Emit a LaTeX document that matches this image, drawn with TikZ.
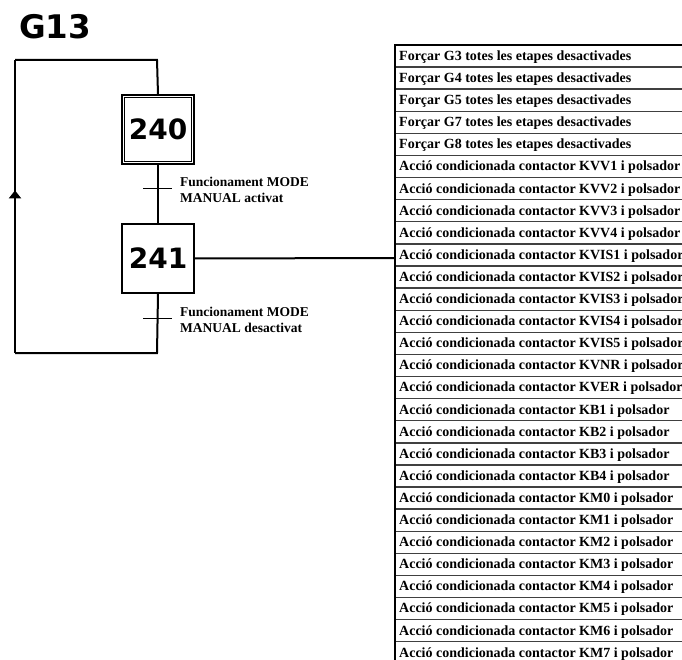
\documentclass[tikz,border=0pt]{standalone}
\usepackage{fontspec}
\setmainfont{Liberation Serif}
\newfontfamily\verd{DejaVu Sans}
\usetikzlibrary{arrows.meta,decorations.markings}
\tikzset{
  wire/.style={line width=2pt},
  stepbox/.style={draw, line width=1.7pt, minimum width=72pt, minimum height=69pt, inner sep=0pt, font=\verd\bfseries\fontsize{28}{30}\selectfont},
  trbar/.style={line width=1pt},
  trlabel/.style={anchor=west, align=left, inner sep=0pt, font=\bfseries\fontsize{13.5}{16}\selectfont},
  rowtext/.style={anchor=west, inner sep=0pt, font=\bfseries\fontsize{14}{16}\selectfont},
  rowline/.style={line width=1.4pt, draw=black!75},
  tborder/.style={line width=2.8pt},
  uparrow/.style={postaction={decorate}, decoration={markings, mark=at position 0.555 with {\arrow{Triangle[width=12pt,length=8pt]}}}}
}
\begin{document}
\begin{tikzpicture}[x=1pt,y=-1pt]
\useasboundingbox (0,0) rectangle (682,660);
% title
\node[anchor=west, inner sep=0pt, font=\verd\bfseries\fontsize{32.5}{34}\selectfont] (title) at (19,26.5) {G13};
% steps
\node[stepbox] (s240) at (158,129.5) {240};
\draw[line width=1.2pt] ([shift={(3.5,3.5)}]s240.north west) rectangle ([shift={(-3.5,-3.5)}]s240.south east);
\node[stepbox] (s241) at (158,258.5) {241};
% coordinates of loop
\coordinate (ctop) at (157,60);
\coordinate (ctl) at (15,60);
\coordinate (cbl) at (15,353);
\coordinate (cbot) at (157,353);
% links
\draw[wire] (s240.south) -- (s241.north);
\draw[wire] (s241.south) -- (cbot) -- (cbl);
\draw[wire, uparrow] (cbl) -- (ctl);
\draw[wire] (ctl) -- (ctop) -- (s240.north);
% transitions
\coordinate (t1a) at (143,189);
\coordinate (t1b) at (172,189);
\coordinate (t2a) at (143,318);
\coordinate (t2b) at (172,318);
\draw[trbar] (t1a) -- (t1b);
\draw[trbar] (t2a) -- (t2b);
\node[trlabel] (l1) at (180,190) {Funcionament MODE\\MANUAL activat};
\node[trlabel] (l2) at (180,319.5) {Funcionament MODE\\MANUAL desactivat};
% table
\coordinate (tabtl) at (395,45);
\coordinate (tabtr) at (682,45);
\coordinate (tabbl) at (395,660);
\foreach \k in {1,...,27} {
  \draw[rowline] (395,{45+22.1*\k}) -- (682,{45+22.1*\k});
}
\draw[tborder] (tabbl) -- (tabtl) -- (tabtr);
\coordinate (tabin) at (395,258);
\draw[wire] (s241.east) -- (tabin);
\foreach \t [count=\i from 0] in {
Forçar G3 totes les etapes desactivades,
Forçar G4 totes les etapes desactivades,
Forçar G5 totes les etapes desactivades,
Forçar G7 totes les etapes desactivades,
Forçar G8 totes les etapes desactivades,
Acció condicionada contactor KVV1 i polsador,
Acció condicionada contactor KVV2 i polsador,
Acció condicionada contactor KVV3 i polsador,
Acció condicionada contactor KVV4 i polsador,
Acció condicionada contactor KVIS1 i polsador,
Acció condicionada contactor KVIS2 i polsador,
Acció condicionada contactor KVIS3 i polsador,
Acció condicionada contactor KVIS4 i polsador,
Acció condicionada contactor KVIS5 i polsador,
Acció condicionada contactor KVNR i polsador,
Acció condicionada contactor KVER i polsador,
Acció condicionada contactor KB1 i polsador,
Acció condicionada contactor KB2 i polsador,
Acció condicionada contactor KB3 i polsador,
Acció condicionada contactor KB4 i polsador,
Acció condicionada contactor KM0 i polsador,
Acció condicionada contactor KM1 i polsador,
Acció condicionada contactor KM2 i polsador,
Acció condicionada contactor KM3 i polsador,
Acció condicionada contactor KM4 i polsador,
Acció condicionada contactor KM5 i polsador,
Acció condicionada contactor KM6 i polsador,
Acció condicionada contactor KM7 i polsador} {
  \node[rowtext] (row\i) at (399,{45+22.1*(\i+0.5)+1}) {\t};
}
\end{tikzpicture}
\end{document}
